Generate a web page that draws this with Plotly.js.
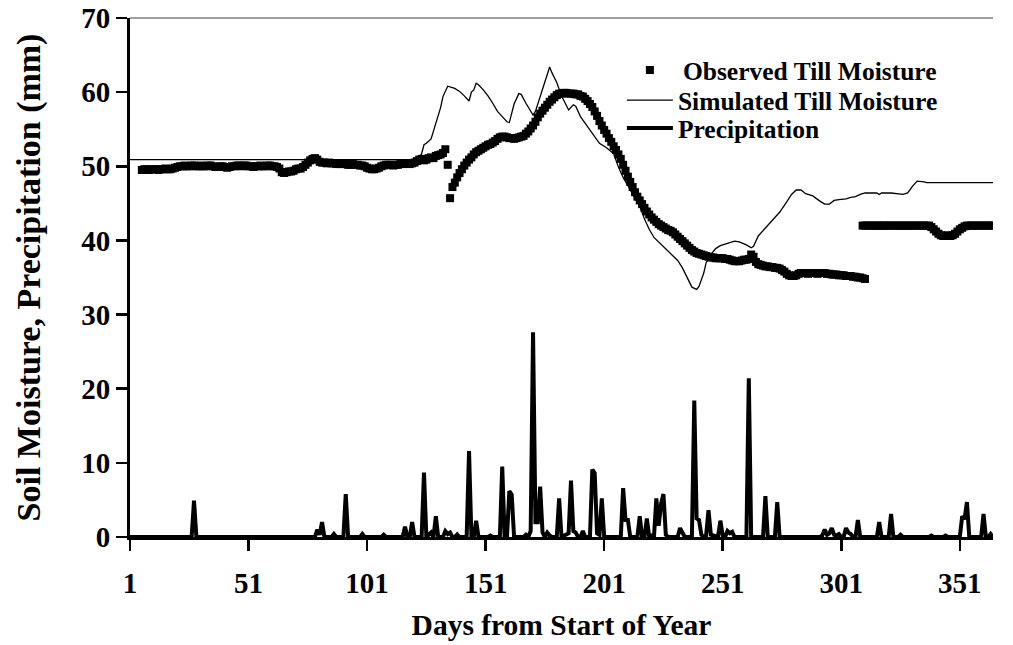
<!DOCTYPE html>
<html>
<head>
<meta charset="utf-8">
<script src="https://cdn.plot.ly/plotly-3.0.1.min.js"></script>
<style>html,body{margin:0;padding:0;background:#fff;}#chart{width:1013px;height:645px;}</style>
</head>
<body>
<div id="chart"></div>
<script>
// ---- Data ----
// Observed till moisture (daily squares), two segments
const observedSeg1StartDay = 6;
const observedSeg1 = [
  49.5, 49.6, 49.6, 49.5, 49.6, 49.6, 49.6, 49.5, 49.6, 49.6, 49.7, 49.6, 49.6, 49.7, 49.8, 49.9,
  50.0, 50.0, 50.1, 50.0, 50.0, 50.1, 50.1, 50.0, 50.0, 50.1, 50.0, 50.0, 50.1,
  50.1, 50.0, 49.9, 49.9, 50.0, 50.0, 49.9, 49.8, 49.9, 50.0, 50.0, 50.1, 50.1, 50.0, 50.1, 50.1,
  50.0, 50.0, 49.9, 50.0, 50.0, 50.1, 50.0, 50.0, 50.1, 50.1, 50.0, 50.0, 49.9, 49.7,
  49.2, 49.1, 49.2, 49.3, 49.3, 49.4,
  49.6, 49.7, 49.7, 49.9, 50.2, 50.5, 50.8,
  51.0, 51.1, 50.9,
  50.6, 50.5, 50.5, 50.4, 50.5, 50.4, 50.4, 50.3, 50.4, 50.3, 50.3, 50.3, 50.2, 50.2, 50.3, 50.2, 50.2, 50.1, 50.1, 50.0,
  49.8, 49.7, 49.6, 49.6, 49.7, 49.8,
  50.0, 50.1, 50.2, 50.2, 50.2, 50.1, 50.2, 50.2, 50.3, 50.3, 50.4, 50.4, 50.3, 50.4,
  50.5, 50.7, 50.9, 51.0, 50.8, 50.9, 51.1, 51.2, 51.1,
  51.4, 51.5, 51.6, 51.8, 52.3,
  50.2, 45.7,
  47.2, 47.8, 48.5, 49.1, 49.6, 50.1, 50.5, 50.9, 51.2, 51.6, 51.9, 52.1, 52.3, 52.5, 52.7, 52.9, 53.0, 53.2, 53.4, 53.7, 53.9, 54.0, 54.0, 53.9,
  53.8, 53.8, 53.7, 53.8, 53.9, 54.0, 54.1, 54.4, 54.7, 55.1,
  55.5, 56.0, 56.6, 57.1, 57.5, 57.9, 58.3, 58.7, 59.0, 59.3, 59.6, 59.8,
  59.8, 59.9, 59.9, 59.8, 59.8, 59.8, 59.7, 59.7, 59.5, 59.4,
  59.1, 58.8, 58.4, 58.0, 57.4, 56.8, 56.1, 55.5,
  54.9, 54.4, 53.8, 53.3, 52.7, 52.2, 51.6, 51.0, 50.2, 49.4,
  48.6, 47.9, 47.2, 46.5, 45.9, 45.4, 44.9, 44.4, 43.9, 43.5,
  43.1, 42.8, 42.5, 42.2, 42.0, 41.8, 41.6, 41.4, 41.3, 41.1,
  40.8, 40.5, 40.2, 39.9, 39.6, 39.3, 39.0, 38.7, 38.5, 38.3,
  38.2, 38.1, 38.0, 37.9, 37.8, 37.7, 37.7, 37.6, 37.6, 37.6,
  37.6, 37.5, 37.5, 37.4, 37.3, 37.2, 37.2, 37.2, 37.3, 37.4,
  37.4, 37.5, 38.1, 37.8, 37.1, 36.8,
  36.7, 36.6, 36.5, 36.5, 36.4, 36.4, 36.3, 36.3, 36.2, 36.0, 35.8, 35.5, 35.3, 35.2,
  35.2, 35.3, 35.5, 35.6, 35.6, 35.6, 35.5, 35.6, 35.6, 35.6,
  35.5, 35.6, 35.6, 35.6, 35.5, 35.5, 35.4, 35.4, 35.4, 35.3,
  35.3, 35.3, 35.2, 35.2, 35.2, 35.1, 35.1, 35.0, 35.0, 34.9, 34.8
];
const observedSeg2StartDay = 310;
const observedSeg2 = [
  42.0, 42.0, 42.0, 42.0, 42.0, 42.0, 42.0, 42.0, 42.0, 42.0,
  42.0, 42.0, 42.0, 42.0, 42.0, 42.0, 42.0, 42.0, 42.0, 42.0,
  42.0, 42.0, 42.0, 42.0, 42.0, 42.0, 42.0, 42.0, 42.0,
  41.8, 41.5, 41.2, 40.9, 40.7, 40.6, 40.6, 40.7, 40.6, 40.7, 40.9, 41.2, 41.5, 41.7, 41.9,
  42.0, 42.0, 42.0, 42.0, 42.0, 42.0, 42.0, 42.0, 42.0, 42.0, 42.0, 42.0
];

// Simulated till moisture (thin line), vertices
const simulatedDays = [1, 120, 123, 124, 125, 126, 128, 130, 132, 133, 135, 138, 140, 142, 144, 145, 146, 147, 148, 150,
  152, 154, 156, 158, 160, 161, 163, 165, 166, 168, 170, 171, 172, 174, 176, 178, 179, 181, 183, 185,
  186, 188, 189, 191, 193, 195, 197, 199, 202, 205, 207, 209, 211, 213, 216, 218, 220, 222, 224, 226,
  228, 230, 232, 234, 236, 238, 240, 241, 243, 244, 246, 248, 250, 253, 256, 258, 261, 263, 264, 266,
  268, 270, 272, 275, 278, 280, 282, 284, 286, 289, 292, 294, 296, 298, 300, 303, 305, 307, 309, 311,
  316, 317, 318, 322, 327, 329, 331, 333, 336, 337, 365];
const simulatedMoisture = [50.9, 50.9, 51.2, 51.7, 52.9, 53.1, 53.7, 55.7, 57.9, 59.4, 60.8, 60.5, 60.1, 59.5, 58.8, 60.0, 60.3, 61.2, 61.0, 60.3,
  59.5, 58.5, 57.4, 56.7, 56.0, 55.9, 58.4, 59.8, 59.7, 58.5, 57.4, 56.9, 57.4, 59.5, 61.5, 63.4, 62.6, 61.3, 59.5, 58.1,
  57.6, 58.3, 58.1, 56.7, 55.8, 54.9, 53.9, 53.1, 52.5, 51.7, 49.9, 48.5, 47.4, 46.2, 44.6, 42.9, 41.5, 40.4, 39.8, 39.1,
  38.6, 38.0, 37.3, 36.3, 35.0, 33.7, 33.4, 33.8, 35.6, 37.0, 38.1, 38.9, 39.3, 39.6, 39.9, 39.8, 39.4, 39.0, 39.2, 40.6,
  41.3, 42.1, 42.8, 43.8, 45.2, 46.2, 46.8, 46.8, 46.3, 46.0, 45.3, 44.9, 44.9, 45.4, 45.5, 45.6, 45.8, 45.9, 46.2, 46.4,
  46.4, 46.2, 46.4, 46.4, 46.2, 46.4, 47.3, 48.0, 47.9, 47.8, 47.8];

// Precipitation (thick line), daily values (zero days bracketing each event)
const precipDays = [1, 27, 28, 29, 79, 80, 81, 82, 83, 86, 87, 88, 91, 92, 93, 98, 99, 100, 107, 108, 109,
  116, 117, 118, 119, 120, 121, 124, 125, 126, 127, 128, 129, 130, 131, 133, 134, 135, 136, 137, 138, 139, 140,
  143, 144, 145, 146, 147, 148, 152, 153, 154, 157, 158, 159, 160, 161, 162, 163, 167, 168, 169,
  170, 171, 172, 173, 174, 175, 176, 177, 178, 179, 181, 182, 183, 186, 187, 188, 189, 190, 191, 192, 193,
  195, 196, 197, 198, 199, 200, 201, 208, 209, 210, 211, 212, 215, 216, 217, 218, 219, 220, 221, 222,
  223, 224, 225, 226, 227, 228, 232, 233, 234, 235, 238, 239, 240, 241, 242, 243, 244, 245, 246, 247, 248,
  249, 250, 251, 252, 253, 254, 255, 256, 261, 262, 263, 268, 269, 270, 273, 274, 275,
  292, 293, 294, 295, 296, 297, 298, 299, 300, 301, 302, 303, 304, 305, 306, 307, 308, 309,
  316, 317, 318, 321, 322, 323, 325, 326, 327, 338, 339, 340, 344, 345, 346,
  351, 352, 353, 354, 355, 360, 361, 362, 363, 364, 365];
const precipValues = [0, 0, 4.9, 0, 0, 1.0, 0.3, 2.0, 0, 0, 0.4, 0, 0, 5.8, 0, 0, 0.4, 0, 0, 0.3, 0,
  0, 1.4, 0, 0, 2.0, 0, 0, 8.7, 0, 0.3, 0.6, 0, 2.8, 0, 0, 0.8, 0.4, 0.6, 0, 0, 0.35, 0,
  0, 11.6, 0, 0, 2.2, 0, 0, 0.2, 0, 0, 9.5, 0, 0, 6.2, 5.7, 0, 0, 0.3, 0,
  0.8, 27.6, 2.0, 2.0, 6.8, 0.6, 0, 0.6, 0.2, 0, 0, 5.2, 0, 0.5, 7.6, 0.8, 0.6, 0, 0, 0.8, 0,
  0, 9.1, 8.6, 0.5, 0.3, 5.2, 0, 0, 6.6, 2.3, 2.3, 0, 0, 2.8, 0, 0, 2.5, 0, 0.2, 0,
  5.2, 1.5, 4.5, 5.8, 0.3, 0, 0, 1.2, 0.5, 0, 0, 18.4, 2.5, 2.3, 0.3, 0, 0.2, 3.6, 0.3, 0.2, 0,
  0, 2.2, 0.2, 0, 0.8, 0.5, 0.7, 0, 0, 21.4, 0, 0, 5.5, 0, 0, 4.7, 0,
  0, 0.2, 1.0, 0.3, 0.5, 1.2, 0.3, 0.2, 0.4, 0, 0, 1.2, 0.6, 0.4, 0, 0, 2.3, 0,
  0, 2.0, 0, 0, 3.1, 0, 0, 0.3, 0, 0, 0.2, 0, 0, 0.2, 0,
  0, 2.8, 2.4, 4.7, 0, 0, 3.1, 0, 0, 0.4, 0];

// Axis ticks
const xTickVals = [1, 51, 101, 151, 201, 251, 301, 351];
const yTickVals = [0, 10, 20, 30, 40, 50, 60, 70];

// ---- Build traces ----
const obsDays = [], obsVals = [];
observedSeg1.forEach((v, i) => { obsDays.push(observedSeg1StartDay + i); obsVals.push(v); });
observedSeg2.forEach((v, i) => { obsDays.push(observedSeg2StartDay + i); obsVals.push(v); });

const FONT = 'Liberation Serif, Times New Roman, serif';

const traces = [
  {
    x: obsDays, y: obsVals, type: 'scatter', mode: 'markers',
    name: 'Observed Till Moisture', legend: 'legend',
    marker: {symbol: 'square', size: 8, color: '#000'}
  },
  {
    x: simulatedDays, y: simulatedMoisture, type: 'scatter', mode: 'lines',
    name: 'Simulated Till Moisture', legend: 'legend2',
    line: {color: '#000', width: 1.3}
  },
  {
    x: precipDays, y: precipValues, type: 'scatter', mode: 'lines',
    name: 'Precipitation', legend: 'legend3',
    line: {color: '#000', width: 4}
  }
];

const axisFont = {family: FONT, size: 29, color: '#000', weight: 'bold'};
const legendFont = {family: FONT, size: 25.5, color: '#000', weight: 'bold'};
const legendBase = {xanchor: 'left', yanchor: 'middle', bgcolor: 'rgba(0,0,0,0)', borderwidth: 0, font: legendFont};

const layout = {
  width: 1013, height: 645,
  margin: {l: 130, r: 20, t: 18, b: 108, pad: 0},
  paper_bgcolor: '#fff', plot_bgcolor: '#fff',
  showlegend: true,
  legend: Object.assign({}, legendBase, {x: 0.5642, y: 0.899, itemwidth: 56}),
  legend2: Object.assign({}, legendBase, {x: 0.570, y: 0.841, itemwidth: 46}),
  legend3: Object.assign({}, legendBase, {x: 0.570, y: 0.787, itemwidth: 46}),
  xaxis: {
    range: [1, 365], tickmode: 'array', tickvals: xTickVals,
    showline: true, linecolor: '#000', linewidth: 3,
    ticks: 'outside', ticklen: 11, tickwidth: 2.5, tickcolor: '#000',
    ticklabelstandoff: 7,
    showgrid: false, zeroline: false,
    tickfont: axisFont,
    title: {text: 'Days from Start of Year', font: {family: FONT, size: 29.5, color: '#000', weight: 'bold'}, standoff: 17}
  },
  yaxis: {
    range: [0, 70], tickmode: 'array', tickvals: yTickVals,
    showline: true, linecolor: '#000', linewidth: 3,
    ticks: 'outside', ticklen: 11, tickwidth: 2.5, tickcolor: '#000',
    showgrid: false, zeroline: false,
    tickfont: axisFont,
    title: {text: 'Soil Moisture, Precipitation (mm)', font: {family: FONT, size: 34, color: '#000', weight: 'bold'}, standoff: 31}
  },
  shapes: [
    {type: 'line', xref: 'paper', yref: 'paper', x0: 0, x1: 1, y0: 1, y1: 1, line: {color: '#808080', width: 1.5}}
  ]
};

Plotly.newPlot('chart', traces, layout, {displayModeBar: false, staticPlot: true});
</script>
</body>
</html>
